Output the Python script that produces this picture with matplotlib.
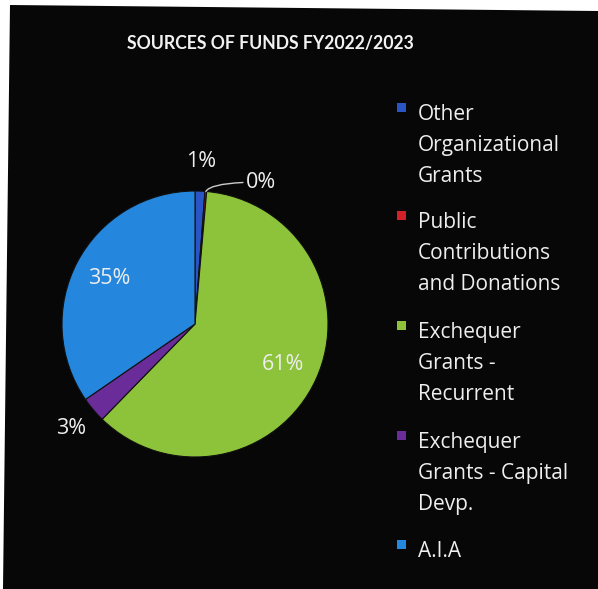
import matplotlib
matplotlib.use("Agg")
import matplotlib.pyplot as plt
from matplotlib.patches import Polygon, Rectangle
import numpy as np

W, H = 598, 589

title = "SOURCES OF FUNDS FY2022/2023"
categories = ["Other\nOrganizational\nGrants",
              "Public\nContributions\nand Donations",
              "Exchequer\nGrants -\nRecurrent",
              "Exchequer\nGrants - Capital\nDevp.",
              "A.I.A"]
values = [1.2, 0.2, 60.9, 3.1, 34.6]
pct_labels = ["1%", "0%", "61%", "3%", "35%"]
colors = ["#2a55c4", "#d42128", "#8dc23b", "#6a2c98", "#2486dd"]

plt.rcParams['font.family'] = ['Open Sans', 'DejaVu Sans']

fig = plt.figure(figsize=(W / 100, H / 100), dpi=100, facecolor="white")

def fx(px):
    return px / W

def fy(py):
    return 1 - py / H

# dark scanned background
bg = Polygon([(fx(10), fy(5)), (fx(598), fy(11)), (fx(598), fy(589)), (fx(3), fy(589))],
             closed=True, transform=fig.transFigure, facecolor="#070707",
             edgecolor="none", zorder=-10)
fig.patches.append(bg)

# title
fig.text(fx(270), fy(43), title, ha="center", va="center", color="#f2f2f2",
         fontsize=12.7, fontweight="bold", family=["Lato", "DejaVu Sans"])

# pie
cx, cy, r = 195, 324, 133
ax = fig.add_axes([fx(cx - r), fy(cy + r), (2 * r) / W, (2 * r) / H])
ax.set_zorder(5)
ax.set_facecolor("none")
wedges, _ = ax.pie(values, colors=colors, startangle=90, counterclock=False,
                   radius=1.0, wedgeprops=dict(edgecolor="#101010", linewidth=0.8))
ax.set_xlim(-1, 1)
ax.set_ylim(-1, 1)
ax.set_aspect("equal")
ax.axis("off")

txtc = "#eeeeee"
fs_pct = 15.5
for i, w in enumerate(wedges):
    mid = np.deg2rad((w.theta1 + w.theta2) / 2)
    if values[i] >= 10:
        d = 0.73
        ax.text(d * np.cos(mid), d * np.sin(mid), pct_labels[i], ha="center", va="center",
                color=txtc, fontsize=fs_pct, clip_on=False)
    elif values[i] >= 0.5:
        d = 1.22
        ax.text(d * np.cos(mid), d * np.sin(mid), pct_labels[i], ha="center", va="center",
                color=txtc, fontsize=fs_pct, clip_on=False)
    else:
        ex, ey = np.cos(mid), np.sin(mid)
        ax.annotate(pct_labels[i], xy=(ex, ey), xytext=(ex + 0.30, ey + 0.07),
                    ha="left", va="center", color=txtc, fontsize=fs_pct,
                    arrowprops=dict(arrowstyle="-", color="#cccccc", lw=1.0,
                                    connectionstyle="angle3,angleA=0,angleB=60",
                                    shrinkA=0, shrinkB=0),
                    annotation_clip=False)

# legend drawn manually
leg_x_txt = 418
leg_x_mark = 397
first_baselines = [120, 228, 338, 448, 557]
line_gap = 31
for lab, col, yb in zip(categories, colors, first_baselines):
    for j, line in enumerate(lab.split("\n")):
        fig.text(fx(leg_x_txt), fy(yb + j * line_gap), line, ha="left", va="baseline",
                 color=txtc, fontsize=15)
    fig.patches.append(Rectangle((fx(leg_x_mark), fy(yb - 8)), 9 / W, 9 / H,
                                 transform=fig.transFigure, facecolor=col,
                                 edgecolor="none"))

fig.savefig("out.png", dpi=100, facecolor=fig.get_facecolor())
